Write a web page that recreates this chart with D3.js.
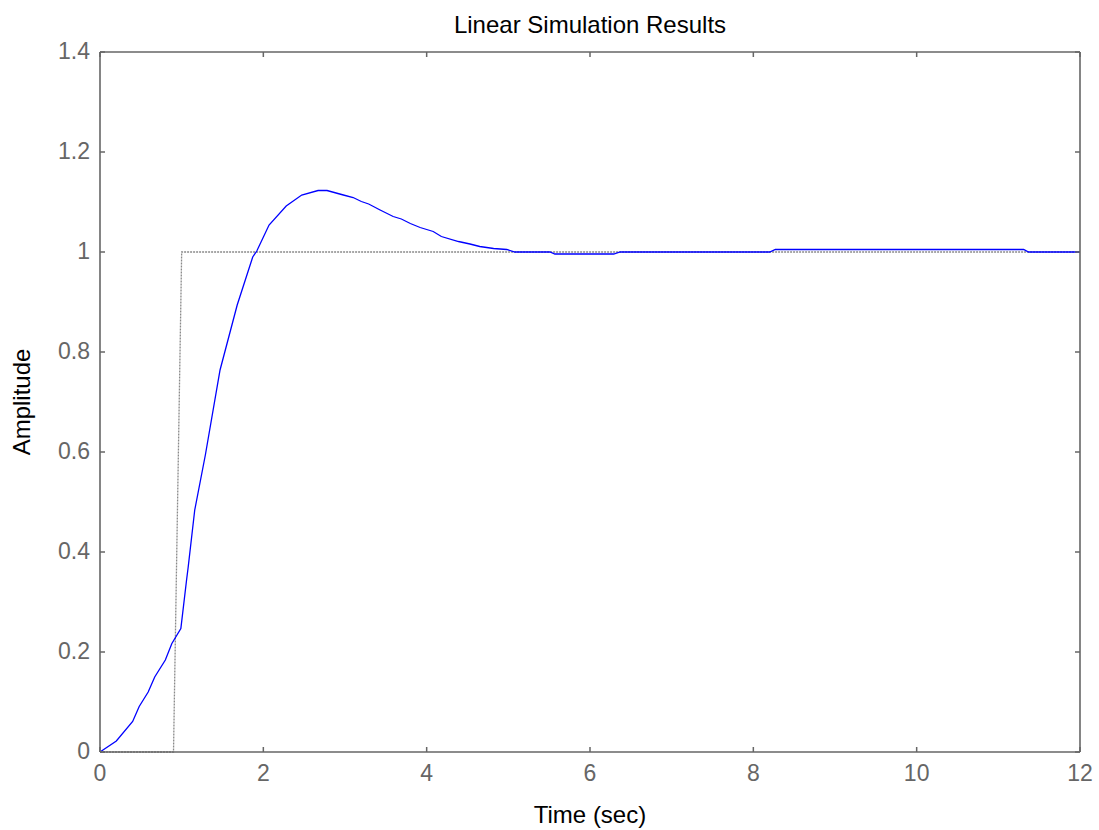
<!DOCTYPE html>
<html>
<head>
<meta charset="utf-8">
<script src="https://cdn.jsdelivr.net/npm/d3@7"></script>
<style>
  body { margin: 0; background: #fff; }
  text { font-family: "Liberation Sans", Arial, sans-serif; }
</style>
</head>
<body>
<div id="chart"></div>
<script>
// data
const timeVals = [0, 0.2, 0.4, 0.48, 0.59, 0.67, 0.8, 0.88, 0.99, 1.06, 1.08, 1.16, 1.29, 1.47, 1.68, 1.87,
  1.92, 2.07, 2.28, 2.47, 2.67, 2.78, 2.98, 3.1, 3.2, 3.29, 3.43, 3.59, 3.69, 3.8, 3.92, 4.08, 4.18,
  4.39, 4.53, 4.65, 4.82, 4.98, 5.08, 5.51, 5.57, 6.29, 6.37, 8.2, 8.27, 11.31, 11.37, 12];
const outputVals = [0, 0.022, 0.061, 0.091, 0.12, 0.15, 0.184, 0.217, 0.247, 0.344, 0.37, 0.484, 0.594, 0.764, 0.894, 0.99,
  1.002, 1.054, 1.092, 1.114, 1.123, 1.123, 1.114, 1.109, 1.101, 1.096, 1.084, 1.071, 1.066, 1.057, 1.049, 1.041, 1.031,
  1.021, 1.016, 1.011, 1.007, 1.005, 1.0, 1.0, 0.996, 0.996, 1.0, 1.0, 1.005, 1.005, 1.0, 1.0];
const inputTime = [0, 0.9, 1.0, 12];
const inputVals = [0, 0, 1, 1];
const xTicks = [0, 2, 4, 6, 8, 10, 12];
const yTicks = [0, 0.2, 0.4, 0.6, 0.8, 1, 1.2, 1.4];

const margin = { top: 52, right: 19, bottom: 78, left: 100 };
const width = 1099 - margin.left - margin.right;
const height = 830 - margin.top - margin.bottom;
const axisColor = "#666";

const svg = d3.select("#chart")
  .append("svg")
  .attr("width", width + margin.left + margin.right)
  .attr("height", height + margin.top + margin.bottom)
  .append("g")
  .attr("transform", `translate(${margin.left},${margin.top})`);

const x = d3.scaleLinear().domain([0, 12]).range([0, width]);
const y = d3.scaleLinear().domain([0, 1.4]).range([height, 0]);
const line = d3.line().x(d => x(d.t)).y(d => y(d.v));

// input signal (dotted gray)
const inputData = inputTime.map((t, i) => ({ t: t, v: inputVals[i] }));
svg.append("path")
  .datum(inputData)
  .attr("d", line)
  .attr("fill", "none")
  .attr("stroke", "#8a8a8a")
  .attr("stroke-width", 1.3)
  .attr("stroke-dasharray", "2,1");

// system response
const outData = timeVals.map((t, i) => ({ t: t, v: outputVals[i] }));
svg.append("path")
  .datum(outData)
  .attr("d", line)
  .attr("fill", "none")
  .attr("stroke", "#0000ff")
  .attr("stroke-width", 1.3);

// axes with inward ticks, drawn as a box
const fmt = d => d3.format("")(d);
const xAxisBottom = svg.append("g").attr("transform", `translate(0,${height})`)
  .call(d3.axisBottom(x).offset(0).tickValues(xTicks).tickSizeInner(-5).tickSizeOuter(0).tickPadding(13).tickFormat(fmt));
const yAxisLeft = svg.append("g")
  .call(d3.axisLeft(y).offset(0).tickValues(yTicks).tickSizeInner(-5).tickSizeOuter(0).tickPadding(10).tickFormat(fmt));
const xAxisTop = svg.append("g")
  .call(d3.axisTop(x).offset(0).tickValues(xTicks).tickSizeInner(-5).tickSizeOuter(0).tickFormat(""));
const yAxisRight = svg.append("g").attr("transform", `translate(${width},0)`)
  .call(d3.axisRight(y).offset(0).tickValues(yTicks).tickSizeInner(-5).tickSizeOuter(0).tickFormat(""));

[xAxisBottom, yAxisLeft, xAxisTop, yAxisRight].forEach(g => {
  g.selectAll("path.domain").attr("stroke", axisColor).attr("stroke-width", 1.6);
  g.selectAll("line").attr("stroke", axisColor).attr("stroke-width", 1.5);
  g.selectAll("text").attr("fill", axisColor).attr("font-size", "23px")
    .attr("font-family", "Liberation Sans, Arial, sans-serif");
});
xAxisBottom.selectAll("text").attr("dy", "0.71em");

// Title
svg.append("text")
  .attr("x", width / 2)
  .attr("y", -19)
  .attr("text-anchor", "middle")
  .attr("font-size", "24px")
  .attr("fill", "#000")
  .text("Linear Simulation Results");

// X label
svg.append("text")
  .attr("x", width / 2)
  .attr("y", height + 71)
  .attr("text-anchor", "middle")
  .attr("font-size", "24px")
  .attr("fill", "#000")
  .text("Time (sec)");

// Y label
svg.append("text")
  .attr("x", -height / 2)
  .attr("y", -70)
  .attr("text-anchor", "middle")
  .attr("transform", "rotate(-90)")
  .attr("font-size", "24px")
  .attr("fill", "#000")
  .text("Amplitude");
</script>
</body>
</html>
